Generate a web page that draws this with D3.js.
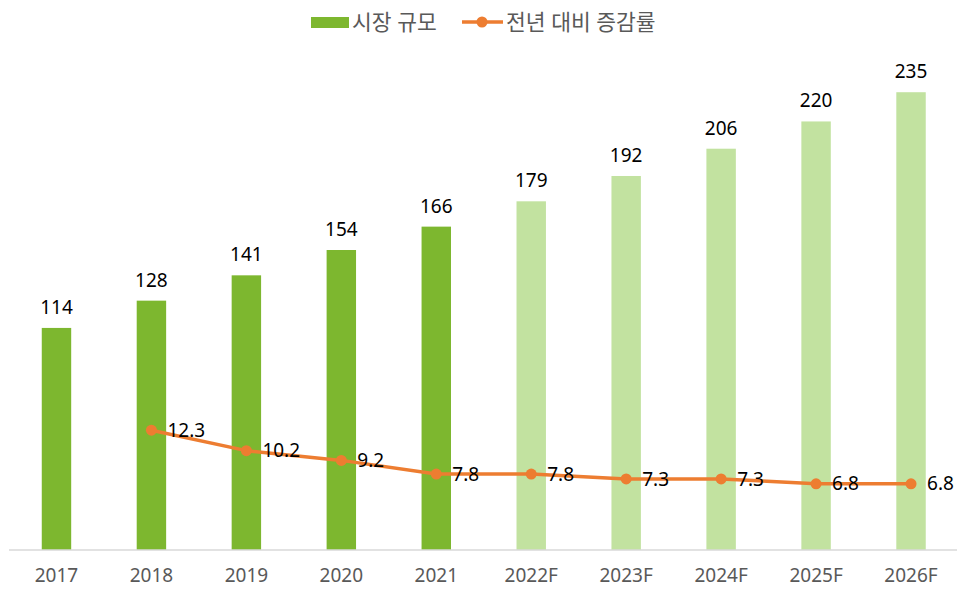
<!DOCTYPE html>
<html><head><meta charset="utf-8">
<script src="https://cdn.jsdelivr.net/npm/d3@7"></script>
<style>body{margin:0;background:#fff}svg{display:block}</style>
</head><body>
<svg id="c" width="957" height="589"></svg>
<script>
const categories = ["2017","2018","2019","2020","2021","2022F","2023F","2024F","2025F","2026F"];
const marketSize = [114,128,141,154,166,179,192,206,220,235];
const growth = [null,12.3,10.2,9.2,7.8,7.8,7.3,7.3,6.8,6.8];
const isForecast = [false,false,false,false,false,true,true,true,true,true];
const legendLabels = ["시장 규모","전년 대비 증감률"];

const font = "'Noto Sans','Noto Sans CJK KR',sans-serif";
const svg = d3.select("#c");
const x = d3.scaleBand().domain(categories).range([9, 958.5]).paddingInner(0.69).paddingOuter(0.345);
const y = d3.scaleLinear().domain([0,250]).range([550,63]);
const y2 = d3.scaleLinear().domain([0,50]).range([550,63]);
const cx = d => x(d) + x.bandwidth()/2;

svg.selectAll("rect.bar").data(categories).join("rect")
  .attr("class","bar")
  .attr("x", d => x(d)).attr("width", x.bandwidth())
  .attr("y", (d,i) => y(marketSize[i])).attr("height", (d,i) => y(0)-y(marketSize[i]))
  .attr("fill", (d,i) => isForecast[i] ? "#c2e2a0" : "#7db72f");

svg.selectAll("text.val").data(categories).join("text")
  .attr("x", d => cx(d)).attr("y", (d,i) => y(marketSize[i]) - 14)
  .attr("text-anchor","middle").attr("font-family",font).attr("font-size",19)
  .attr("fill","#000").text((d,i) => marketSize[i]);

// axis
const xAxis = svg.append("g").attr("transform","translate(0,550)")
  .call(d3.axisBottom(x).tickSize(0).tickPadding(19));
xAxis.select(".domain").attr("stroke","#d9d9d9").attr("stroke-width",1.5).attr("d","M9,0H957");
xAxis.selectAll("text").attr("font-family",font).attr("font-size",19).attr("fill","#595959");

// line
const pts = categories.map((c,i)=>({c, v: growth[i]})).filter(p => p.v !== null);
const line = d3.line().x(p => cx(p.c)).y(p => y2(p.v));
svg.append("path").datum(pts).attr("d", line).attr("fill","none")
  .attr("stroke","#ed7d31").attr("stroke-width",3.5).attr("stroke-linejoin","round");
svg.selectAll("circle.pt").data(pts).join("circle")
  .attr("cx", p => cx(p.c)).attr("cy", p => y2(p.v)).attr("r",5.5).attr("fill","#ed7d31");
svg.selectAll("text.gv").data(pts).join("text")
  .attr("x", p => cx(p.c) + 16).attr("y", p => y2(p.v)).attr("dy","0.35em")
  .attr("font-family",font).attr("font-size",19).attr("fill","#000")
  .text(p => p.v.toFixed(1));

// legend
const lg = svg.append("g");
lg.append("rect").attr("x",311).attr("y",17).attr("width",38).attr("height",11).attr("fill","#7db72f");
lg.append("text").attr("x",352).attr("y",22).attr("dy","0.35em").attr("font-family",font)
  .attr("font-size",21.5).attr("fill","#595959").text(legendLabels[0]);
lg.append("line").attr("x1",462).attr("x2",503).attr("y1",22).attr("y2",22)
  .attr("stroke","#ed7d31").attr("stroke-width",3.5);
lg.append("circle").attr("cx",482).attr("cy",22).attr("r",5.5).attr("fill","#ed7d31");
lg.append("text").attr("x",506).attr("y",22).attr("dy","0.35em").attr("font-family",font)
  .attr("font-size",21.5).attr("fill","#595959").text(legendLabels[1]);
</script>
</body></html>
